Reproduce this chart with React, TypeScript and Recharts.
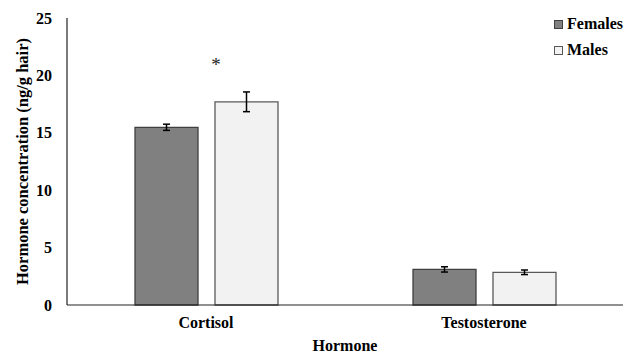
import { BarChart, Bar, XAxis, YAxis, ErrorBar, Legend, LabelList } from 'recharts';

const categories = ['Cortisol', 'Testosterone'];
const females = [15.48, 3.1];
const femalesErr = [0.27, 0.23];
const males = [17.7, 2.85];
const malesErr = [0.86, 0.2];
const significance = ['*', ''];
const yTicks = [0, 5, 10, 15, 20, 25];

const data = categories.map((name, i) => ({
    name,
    females: females[i],
    femalesErr: femalesErr[i],
    males: males[i],
    malesErr: malesErr[i],
    sig: significance[i]
}));

const font = '"Liberation Serif", "Times New Roman", serif';

const legendItems = [
    { label: 'Females', fill: '#808080', stroke: '#404040' },
    { label: 'Males', fill: '#f2f2f2', stroke: '#595959' }
];

function LegendBox() {
    return (
        <div style={{ fontFamily: font, fontWeight: 'bold', fontSize: 16, color: '#000' }}>
            {legendItems.map((it) => (
                <div key={it.label} style={{ display: 'flex', alignItems: 'center', height: 26 }}>
                    <span
                        style={{
                            width: 7,
                            height: 7,
                            background: it.fill,
                            border: `1px solid ${it.stroke}`,
                            marginRight: 4,
                            display: 'inline-block'
                        }}
                    />
                    {it.label}
                </div>
            ))}
        </div>
    );
}

function SigLabel(props: any) {
    const { x, y, value } = props;
    if (!value) return null;
    return (
        <text x={x + 1} y={y - 31} textAnchor="middle" fontFamily={font} fontSize={19} fill="#222">
            {value}
        </text>
    );
}

export default function App() {
    return (
        <div style={{ position: 'absolute', left: 0, top: 0, width: 636, height: 354, background: '#fff' }}>
            <BarChart
                width={636}
                height={354}
                data={data}
                margin={{ top: 18, right: 13, left: 0, bottom: 0 }}
                barSize={63}
                barGap={17}
            >
                <XAxis
                    dataKey="name"
                    height={49}
                    tickLine={false}
                    tickSize={0}
                    tickMargin={12}
                    axisLine={{ stroke: '#222', strokeWidth: 1.2 }}
                    tick={{ fontFamily: font, fontWeight: 'bold', fontSize: 16, fill: '#000' }}
                    label={{
                        value: 'Hormone',
                        position: 'insideBottom',
                        offset: 3,
                        style: { fontFamily: font, fontWeight: 'bold', fontSize: 16, fill: '#000' }
                    }}
                />
                <YAxis
                    width={67}
                    domain={[0, 25]}
                    ticks={yTicks}
                    tickLine={false}
                    tickSize={0}
                    tickMargin={15}
                    axisLine={{ stroke: '#222', strokeWidth: 1.2 }}
                    tick={{ fontFamily: font, fontWeight: 'bold', fontSize: 16, fill: '#000' }}
                    label={{
                        value: 'Hormone concentration (ng/g hair)',
                        angle: -90,
                        position: 'insideLeft',
                        offset: 22,
                        style: { fontFamily: font, fontWeight: 'bold', fontSize: 16.5, fill: '#000', textAnchor: 'middle' }
                    }}
                />
                <Legend
                    layout="vertical"
                    verticalAlign="middle"
                    align="center"
                    content={() => <LegendBox />}
                    wrapperStyle={{ left: 554, top: 11, width: 80, height: 52 }}
                />
                <Bar dataKey="females" fill="#808080" stroke="#404040" strokeWidth={1.3} isAnimationActive={false}>
                    <ErrorBar dataKey="femalesErr" width={3.5} stroke="#000" strokeWidth={1.5} />
                </Bar>
                <Bar dataKey="males" fill="#f2f2f2" stroke="#595959" strokeWidth={1.3} isAnimationActive={false}>
                    <ErrorBar dataKey="malesErr" width={3.5} stroke="#000" strokeWidth={1.5} />
                    <LabelList dataKey="sig" content={SigLabel} />
                </Bar>
            </BarChart>
        </div>
    );
}
